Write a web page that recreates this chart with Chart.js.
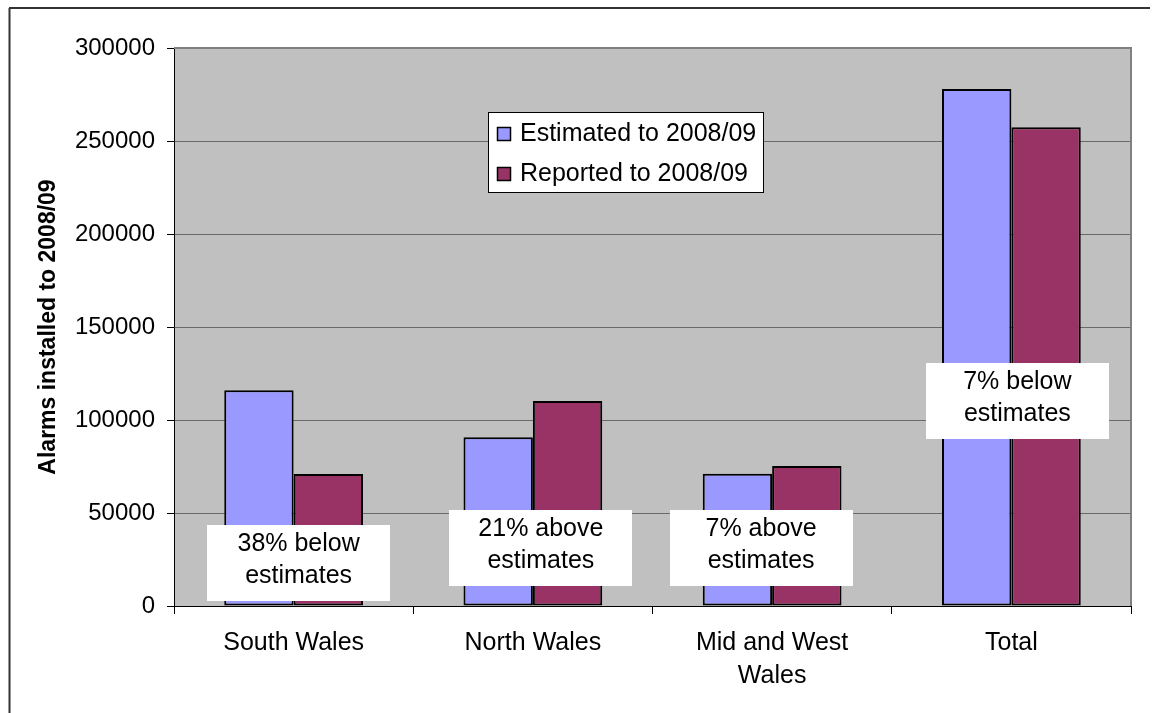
<!DOCTYPE html>
<html>
<head>
<meta charset="utf-8">
<title>Alarms installed to 2008/09</title>
<script src="https://cdn.jsdelivr.net/npm/chart.js@4/dist/chart.umd.min.js"></script>
<style>
  html, body { margin: 0; padding: 0; background: #fff; }
  canvas { display: block; }
</style>
</head>
<body>
<canvas id="c" width="1159" height="713"></canvas>
<script>
// Regions and values
const categories = ['South Wales', 'North Wales', ['Mid and West', 'Wales'], 'Total'];
const estimated = [116000, 90700, 71100, 278000];
const reported = [71000, 110200, 75300, 257400];
const seriesNames = ['Estimated to 2008/09', 'Reported to 2008/09'];
const yTickValues = [0, 50000, 100000, 150000, 200000, 250000, 300000];

// Comparison notes placed over each region
const noteLines = [
  ['38% below', 'estimates'],
  ['21% above', 'estimates'],
  ['7% above', 'estimates'],
  ['7% below', 'estimates']
];
const noteTopValues = [43500, 51600, 51600, 130800];
const noteShift = [5, 8, -11, 6];

const FONT = '"Liberation Sans", Arial, sans-serif';

const frameAndBackground = {
  id: 'frameAndBackground',
  beforeDraw(chart) {
    const { ctx, chartArea: a } = chart;
    ctx.save();
    ctx.fillStyle = '#ffffff';
    ctx.fillRect(0, 0, chart.width, chart.height);
    // outer frame (top and left edges)
    ctx.strokeStyle = '#333333';
    ctx.lineWidth = 2;
    ctx.beginPath();
    ctx.moveTo(9, 8);
    ctx.lineTo(1150, 8);
    ctx.moveTo(9.5, 8);
    ctx.lineTo(9.5, chart.height);
    ctx.stroke();
    // plot area
    ctx.fillStyle = '#C0C0C0';
    ctx.fillRect(a.left, a.top, a.right - a.left, a.bottom - a.top);
    ctx.restore();
  },
  beforeDatasetsDraw(chart) {
    const { ctx, chartArea: a } = chart;
    ctx.save();
    ctx.strokeStyle = '#808080';
    ctx.lineWidth = 2;
    ctx.beginPath();
    ctx.moveTo(a.left, a.top);
    ctx.lineTo(a.right, a.top);
    ctx.lineTo(a.right, a.bottom);
    ctx.stroke();
    ctx.restore();
  }
};

const notesAndLegend = {
  id: 'notesAndLegend',
  afterDatasetsDraw(chart) {
    const { ctx, chartArea: a } = chart;
    const xs = chart.scales.x, ys = chart.scales.y;
    ctx.save();
    // notes
    ctx.font = '25px ' + FONT;
    ctx.textAlign = 'center';
    ctx.textBaseline = 'middle';
    noteLines.forEach((lines, i) => {
      const cx = xs.getPixelForValue(i) + noteShift[i];
      const top = ys.getPixelForValue(noteTopValues[i]);
      const w = 183, h = 76;
      ctx.fillStyle = '#ffffff';
      ctx.fillRect(Math.round(cx - w / 2), Math.round(top), w, h);
      ctx.fillStyle = '#000000';
      lines.forEach((t, j) => ctx.fillText(t, cx, top + 19 + j * 32));
    });
    // legend box
    const lx = a.left + 314.5, ly = a.top + 64.5, lw = 275, lh = 80;
    ctx.fillStyle = '#ffffff';
    ctx.fillRect(lx, ly, lw, lh);
    ctx.strokeStyle = '#000000';
    ctx.lineWidth = 1;
    ctx.strokeRect(lx, ly, lw, lh);
    ctx.textAlign = 'left';
    chart.data.datasets.forEach((ds, i) => {
      const cy = ly + 21 + i * 40;
      ctx.fillStyle = ds.backgroundColor;
      ctx.fillRect(lx + 9, cy - 6, 13, 13);
      ctx.lineWidth = 1.5;
      ctx.strokeRect(lx + 9, cy - 6, 13, 13);
      ctx.fillStyle = '#000000';
      ctx.fillText(ds.label, lx + 31.5, cy + 1);
    });
    ctx.restore();
  }
};

new Chart(document.getElementById('c'), {
  type: 'bar',
  data: {
    labels: categories,
    datasets: [
      {
        label: seriesNames[0],
        data: estimated,
        backgroundColor: '#9999FF',
        borderColor: '#000000',
        borderWidth: 2,
        borderSkipped: false
      },
      {
        label: seriesNames[1],
        data: reported,
        backgroundColor: '#993366',
        borderColor: '#000000',
        borderWidth: 2,
        borderSkipped: false
      }
    ]
  },
  options: {
    responsive: false,
    animation: false,
    devicePixelRatio: 1,
    layout: { padding: { top: 48, right: 28, left: 0, bottom: 0 } },
    datasets: { bar: { categoryPercentage: 0.58, barPercentage: 1.0 } },
    plugins: {
      legend: { display: false },
      tooltip: { enabled: false }
    },
    scales: {
      x: {
        grid: {
          display: true,
          drawOnChartArea: false,
          drawTicks: true,
          tickLength: 8,
          tickColor: '#000000',
          offset: true
        },
        border: { display: true, color: '#000000', width: 1 },
        ticks: {
          color: '#000000',
          font: { family: FONT, size: 25, lineHeight: '33px' },
          padding: 13,
          maxRotation: 0,
          autoSkip: false
        },
        afterFit(axis) { axis.height = 107; }
      },
      y: {
        min: 0,
        max: 300000,
        afterBuildTicks(axis) { axis.ticks = yTickValues.map(v => ({ value: v })); },
        grid: {
          color: '#6a6a6a',
          lineWidth: 1,
          tickColor: '#000000',
          tickLength: 7
        },
        border: { display: true, color: '#000000', width: 1 },
        ticks: {
          color: '#000000',
          font: { family: FONT, size: 24 },
          padding: 12,
          callback: v => String(v)
        },
        title: {
          display: true,
          text: 'Alarms installed to 2008/09',
          color: '#000000',
          font: { family: FONT, size: 23, weight: 'bold' },
          padding: { top: 35, bottom: 0 }
        },
        afterFit(axis) { axis.width = 174; }
      }
    }
  },
  plugins: [frameAndBackground, notesAndLegend]
});
</script>
</body>
</html>
